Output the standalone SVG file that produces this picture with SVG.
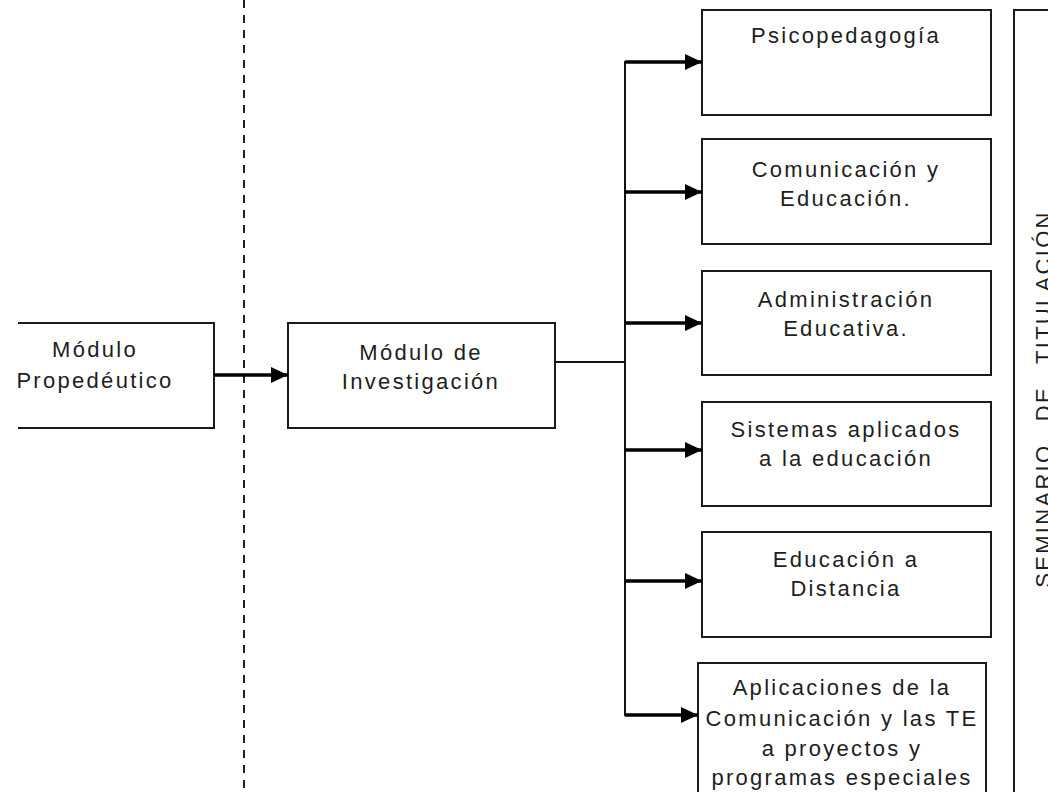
<svg xmlns="http://www.w3.org/2000/svg" width="1048" height="792" viewBox="0 0 1048 792">
<style>
.box{fill:#fff;stroke:#1a1a1a;stroke-width:2}
.lbl{font-family:"Liberation Sans",Arial,sans-serif;font-size:22px;letter-spacing:2.3px;fill:#1e1e1e;text-anchor:middle}
.thin{stroke:#111;stroke-width:2;fill:none}
.arr{stroke:#000;stroke-width:3.5;fill:none}
</style>
<defs>
<marker id="ah" markerUnits="userSpaceOnUse" markerWidth="18" markerHeight="18" refX="17" refY="8" orient="auto">
<path d="M0,0 L17,8 L0,16 Z" fill="#000"/>
</marker>
</defs>
<rect width="1048" height="792" fill="#fff"/>
<line x1="244" y1="0" x2="244" y2="792" stroke="#222" stroke-width="2" stroke-dasharray="8,7"/>
<g id="propedeutico">
<path class="box" d="M18,323 H214 V428 H18"/>
<text class="lbl" x="95" y="357">Módulo</text>
<text class="lbl" x="95" y="388">Propedéutico</text>
</g>
<g id="investigacion">
<rect class="box" x="288" y="323" width="267" height="105"/>
<text class="lbl" x="421" y="360">Módulo de</text>
<text class="lbl" x="421" y="389">Investigación</text>
</g>
<g id="psicopedagogia">
<rect class="box" x="702" y="10" width="289" height="105"/>
<text class="lbl" x="846" y="43">Psicopedagogía</text>
</g>
<g id="comunicacion">
<rect class="box" x="702" y="139" width="289" height="105"/>
<text class="lbl" x="846" y="177">Comunicación y</text>
<text class="lbl" x="846" y="206">Educación.</text>
</g>
<g id="administracion">
<rect class="box" x="702" y="271" width="289" height="104"/>
<text class="lbl" x="846" y="307">Administración</text>
<text class="lbl" x="846" y="336">Educativa.</text>
</g>
<g id="sistemas">
<rect class="box" x="702" y="402" width="289" height="104"/>
<text class="lbl" x="846" y="437">Sistemas aplicados</text>
<text class="lbl" x="846" y="466">a la educación</text>
</g>
<g id="distancia">
<rect class="box" x="702" y="532" width="289" height="105"/>
<text class="lbl" x="846" y="567">Educación a</text>
<text class="lbl" x="846" y="596">Distancia</text>
</g>
<g id="aplicaciones">
<path class="box" d="M698,800 V663 H986 V800"/>
<text class="lbl" x="842" y="695">Aplicaciones de la</text>
<text class="lbl" x="842" y="726">Comunicación y las TE</text>
<text class="lbl" x="842" y="756">a proyectos y</text>
<text class="lbl" x="842" y="785">programas especiales</text>
</g>
<g id="seminario">
<path class="box" d="M1014,800 V10 H1060"/>
<text class="lbl" transform="translate(1051,399) rotate(-90)" style="word-spacing:14px">SEMINARIO DE TITULACIÓN</text>
</g>
<g id="connectors">
<line class="arr" x1="214" y1="375" x2="288" y2="375" marker-end="url(#ah)"/>
<polyline class="thin" points="555,362 625,362"/>
<line class="thin" x1="625" y1="61" x2="625" y2="716"/>
<line class="arr" x1="625" y1="62" x2="702" y2="62" marker-end="url(#ah)"/>
<line class="arr" x1="625" y1="192" x2="702" y2="192" marker-end="url(#ah)"/>
<line class="arr" x1="625" y1="323" x2="702" y2="323" marker-end="url(#ah)"/>
<line class="arr" x1="625" y1="450" x2="702" y2="450" marker-end="url(#ah)"/>
<line class="arr" x1="625" y1="581" x2="702" y2="581" marker-end="url(#ah)"/>
<line class="arr" x1="625" y1="715" x2="698" y2="715" marker-end="url(#ah)"/>
</g>
</svg>
